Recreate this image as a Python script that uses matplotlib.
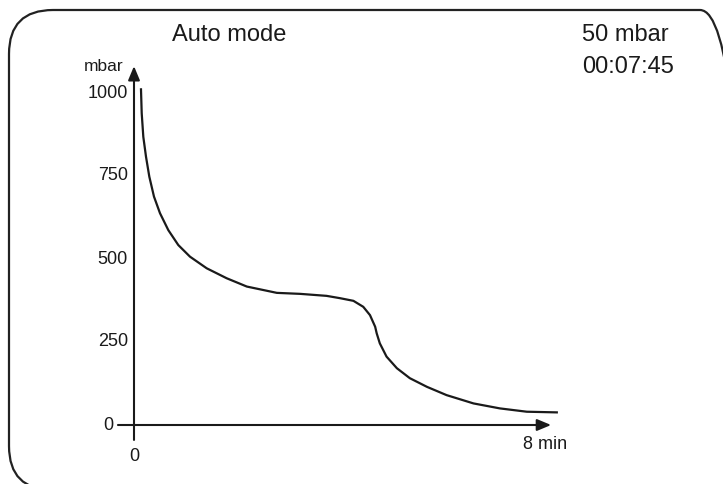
import matplotlib
matplotlib.use("Agg")
import matplotlib.pyplot as plt
from matplotlib.patches import FancyBboxPatch
from matplotlib.transforms import IdentityTransform

# --- data --------------------------------------------------------------------
time_min = [0.135, 0.149, 0.180, 0.232, 0.296, 0.386, 0.502, 0.663, 0.856,
            1.082, 1.405, 1.791, 2.18, 2.76, 3.21, 3.72, 3.98, 4.24, 4.43,
            4.56, 4.66, 4.69, 4.75, 4.88, 5.08, 5.33, 5.66, 6.04, 6.56, 7.07,
            7.59, 8.17]
pressure_mbar = [1011, 939, 868, 808, 748, 688, 638, 587, 542,
                 507, 472, 442, 417, 398, 395, 389, 382, 374, 356,
                 331, 296, 276, 246, 206, 171, 141, 115, 90, 65, 50,
                 40, 38]
y_ticks = [0, 250, 500, 750, 1000]
x_end_label = "8 min"
title = "Auto mode"
status_lines = ["50 mbar", "00:07:45"]

INK = "#1a1a1a"
plt.rcParams["font.family"] = ["Liberation Sans", "DejaVu Sans"]

W, H = 723, 484
fig = plt.figure(figsize=(W / 100, H / 100), dpi=100)
ax = fig.add_axes([0, 0, 1, 1])
ax.axis("off")

# pixel layout of the schematic: origin at (134, 425) px
x0_px, px_per_min = 134, 51.75
y0_px, px_per_mbar = 425, 0.332
ax.set_xlim(-x0_px / px_per_min, (W - x0_px) / px_per_min)
ax.set_ylim((y0_px - H) / px_per_mbar, y0_px / px_per_mbar)

# rounded frame (partly outside the picture)
frame = FancyBboxPatch((9, -6), 735, 480, boxstyle="round,pad=0,rounding_size=44",
                       transform=IdentityTransform(), fill=False, lw=1.6,
                       edgecolor="#222222", clip_on=False)
fig.patches.append(frame)

# axes with arrows
arrow = dict(arrowstyle="-|>,head_length=0.6,head_width=0.25", lw=1.5,
             color=INK, shrinkA=0, shrinkB=0, mutation_scale=14)
ax.annotate("", xy=(8.06, 0), xytext=(-0.31, 0), arrowprops=arrow)
ax.annotate("", xy=(0, 1081), xytext=(0, -45), arrowprops=arrow)

ax.plot(time_min, pressure_mbar, color=INK, lw=1.6, solid_joinstyle="round")

for v in y_ticks:
    xr = -0.12 if v else -0.4
    ax.text(xr, v, str(v), ha="right", va="center", fontsize=13, color=INK)
ax.text(0, -96, "0", ha="center", va="center", fontsize=13, color=INK)
ax.text(7.95, -58, x_end_label, ha="center", va="center", fontsize=13, color=INK)
ax.text(-0.2, 1080, "mbar", ha="right", va="center", fontsize=12.5, color=INK)

ax.text(1.83, 1175, title, ha="center", va="center", fontsize=17, color=INK)
for i, s in enumerate(status_lines):
    ax.text(8.66, 1175 - i * 97, s, ha="left", va="center", fontsize=17, color=INK)

fig.savefig("out.png", dpi=100)
